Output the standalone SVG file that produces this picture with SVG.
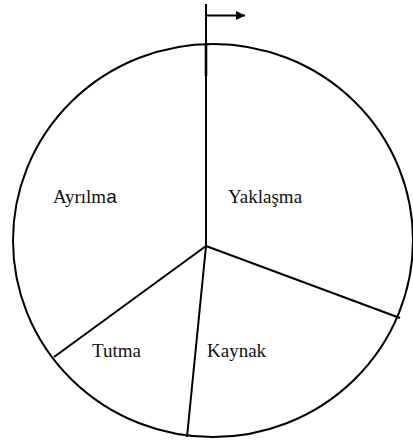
<svg xmlns="http://www.w3.org/2000/svg" width="413" height="445" viewBox="0 0 413 445">
  <defs>
    <style>
      .ln { stroke: #000; stroke-width: 2; fill: none; stroke-linecap: butt; }
      .lbl { font-size: 19px; fill: #111; }
    </style>
    <marker id="arr" viewBox="0 0 10 10" refX="10" refY="5" markerWidth="10" markerHeight="9" markerUnits="userSpaceOnUse" orient="auto">
      <path d="M0,0 L10,5 L0,10 z" fill="#000"/>
    </marker>
  </defs>
  <rect width="413" height="445" fill="#fff"/>
  <g id="circle">
    <ellipse class="ln" cx="213" cy="240.5" rx="200" ry="196.5"/>
  </g>
  <g id="connectors">
    <line class="ln" x1="206" y1="4" x2="206" y2="246"/>
    <line class="ln" x1="206" y1="44" x2="206" y2="76" style="stroke-width:2.6"/>
    <line class="ln" x1="206" y1="246" x2="400" y2="318"/>
    <line class="ln" x1="206" y1="246" x2="54" y2="357"/>
    <line class="ln" x1="206" y1="246" x2="187" y2="437"/>
    <line class="ln" x1="206" y1="15.5" x2="245" y2="15.5" marker-end="url(#arr)"/>
  </g>
  <g id="yaklasma">
    <text class="lbl" font-family="'Liberation Serif', 'Times New Roman', 'DejaVu Serif', serif" x="228" y="203">Yaklaşma</text>
  </g>
  <g id="ayrilma">
    <text class="lbl" font-family="'Liberation Serif', 'Times New Roman', 'DejaVu Serif', serif" x="53" y="203">Ayrılm<tspan font-family="'Liberation Sans', Arial, sans-serif">a</tspan></text>
  </g>
  <g id="tutma">
    <text class="lbl" font-family="'Liberation Serif', 'Times New Roman', 'DejaVu Serif', serif" x="92" y="357">Tutma</text>
  </g>
  <g id="kaynak">
    <text class="lbl" font-family="'Liberation Serif', 'Times New Roman', 'DejaVu Serif', serif" x="207" y="357">Kaynak</text>
  </g>
</svg>
